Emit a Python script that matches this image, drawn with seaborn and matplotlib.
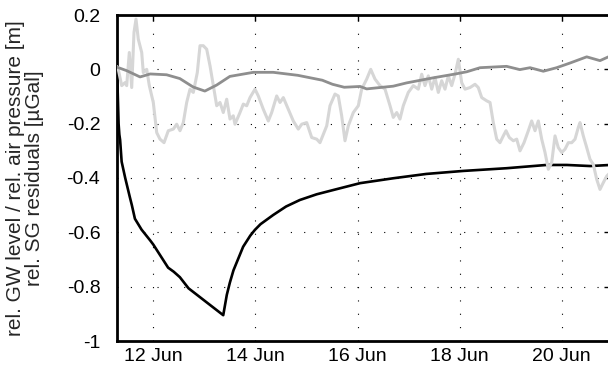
import matplotlib
matplotlib.use("Agg")
import matplotlib.pyplot as plt
import seaborn as sns
import pandas as pd

# ---- data (day of June, value) ----
gw_day = [11.29, 11.305, 11.32, 11.335, 11.35, 11.38, 11.45, 11.54, 11.58, 11.64, 11.77, 11.94, 12.0,
          12.29, 12.40, 12.52, 12.69, 13.37, 13.44, 13.50, 13.57, 13.76, 13.90, 13.99, 14.10, 14.35,
          14.60, 14.87, 15.20, 15.53, 16.05, 16.70, 17.35, 18.07, 18.92, 19.70, 20.10, 20.56, 20.95]
gw_val = [0.0, -0.10, -0.20, -0.24, -0.26, -0.34, -0.40, -0.47, -0.50, -0.55, -0.59, -0.63, -0.645,
          -0.73, -0.745, -0.765, -0.806, -0.905, -0.83, -0.785, -0.74, -0.653, -0.612, -0.591, -0.57, -0.536,
          -0.505, -0.481, -0.46, -0.444, -0.419, -0.401, -0.385, -0.374, -0.364, -0.352, -0.352, -0.356, -0.352]

air_day = [11.29, 11.48, 11.74, 11.94, 12.26, 12.52, 12.78, 13.01, 13.24, 13.50, 13.96, 14.35, 14.83,
           15.31, 15.51, 15.74, 16.05, 16.18, 16.70, 16.96, 17.49, 17.92, 18.14, 18.40, 18.92, 19.18,
           19.38, 19.64, 19.90, 20.16, 20.49, 20.75, 20.95]
air_val = [0.008, -0.005, -0.028, -0.017, -0.020, -0.034, -0.065, -0.080, -0.058, -0.026, -0.011, -0.011, -0.022,
           -0.040, -0.055, -0.066, -0.063, -0.072, -0.062, -0.050, -0.031, -0.017, -0.009, 0.006, 0.011, -0.001,
           0.006, -0.007, 0.006, 0.023, 0.046, 0.032, 0.049]

sg_day = [11.29, 11.314, 11.381, 11.446, 11.479, 11.530, 11.577, 11.622, 11.661, 11.706, 11.773, 11.804, 11.871,
          11.922, 12.0, 12.067, 12.131, 12.210, 12.294, 12.392, 12.458, 12.523, 12.588, 12.654, 12.719, 12.784,
          12.862, 12.915, 12.979, 13.046, 13.111, 13.175, 13.242, 13.307, 13.371, 13.438, 13.502, 13.567,
          13.600, 13.698, 13.763, 13.830, 13.894, 13.992, 14.057, 14.155, 14.253, 14.319, 14.417, 14.482,
          14.547, 14.644, 14.742, 14.840, 14.907, 15.005, 15.103, 15.201, 15.265, 15.330, 15.397, 15.461,
          15.559, 15.624, 15.690, 15.755, 15.820, 15.918, 16.016, 16.082, 16.180, 16.259, 16.343, 16.441,
          16.539, 16.637, 16.701, 16.768, 16.832, 16.897, 16.995, 17.093, 17.191, 17.258, 17.322, 17.387,
          17.454, 17.518, 17.583, 17.649, 17.714, 17.779, 17.845, 17.910, 17.975, 18.041, 18.106, 18.204,
          18.302, 18.366, 18.433, 18.531, 18.596, 18.660, 18.727, 18.791, 18.856, 18.909, 18.974, 19.052,
          19.119, 19.183, 19.262, 19.346, 19.412, 19.477, 19.542, 19.608, 19.673, 19.738, 19.804, 19.869,
          19.933, 20.000, 20.065, 20.129, 20.196, 20.261, 20.325, 20.359, 20.423, 20.490, 20.554, 20.619,
          20.686, 20.750, 20.815, 20.882, 20.95]
sg_val = [0.01, 0.0, -0.06, -0.049, -0.06, 0.062, -0.067, 0.136, 0.185, 0.111, 0.062, -0.012, 0.0,
          -0.06, -0.122, -0.233, -0.257, -0.27, -0.226, -0.22, -0.202, -0.226, -0.196, -0.122, -0.073, -0.085,
          -0.012, 0.087, 0.087, 0.074, 0.013, -0.06, -0.134, -0.122, -0.159, -0.11, -0.183, -0.171,
          -0.202, -0.159, -0.128, -0.134, -0.104, -0.073, -0.098, -0.147, -0.19, -0.159, -0.098, -0.122,
          -0.104, -0.147, -0.19, -0.22, -0.202, -0.196, -0.251, -0.257, -0.27, -0.239, -0.208, -0.134,
          -0.091, -0.098, -0.171, -0.263, -0.208, -0.159, -0.134, -0.073, -0.036, 0.0, -0.036, -0.06,
          -0.073, -0.134, -0.177, -0.159, -0.183, -0.134, -0.085, -0.06, -0.073, -0.018, -0.06, -0.024,
          -0.073, -0.03, -0.085, -0.042, -0.073, -0.024, -0.06, -0.018, 0.037, -0.049, -0.073, -0.067,
          -0.055, -0.067, -0.104, -0.116, -0.122, -0.196, -0.257, -0.27, -0.245, -0.226, -0.251, -0.263,
          -0.257, -0.3, -0.27, -0.226, -0.19, -0.226, -0.19, -0.257, -0.306, -0.368, -0.343, -0.245,
          -0.288, -0.306, -0.294, -0.27, -0.27, -0.257, -0.214, -0.196, -0.245, -0.288, -0.331, -0.35,
          -0.405, -0.442, -0.417, -0.393, -0.38]

xticks = [12, 14, 16, 18, 20]
xtick_labels = ["12 Jun", "14 Jun", "16 Jun", "18 Jun", "20 Jun"]
yticks = [-1, -0.8, -0.6, -0.4, -0.2, 0, 0.2]
ytick_labels = ["-1", "-0.8", "-0.6", "-0.4", "-0.2", "0", "0.2"]

sns.set_style("white")
plt.rcParams["font.family"] = ["Liberation Sans", "DejaVu Sans"]
plt.rcParams["axes.unicode_minus"] = False

fig = plt.figure(figsize=(6.08, 3.74), dpi=100)
ax = fig.add_axes([117 / 608, 33 / 374, (610 - 117) / 608, (341 - 15) / 374])

gw = pd.DataFrame({"day": gw_day, "val": gw_val})
air = pd.DataFrame({"day": air_day, "val": air_val})
sg = pd.DataFrame({"day": sg_day, "val": sg_val})

sns.lineplot(data=gw, x="day", y="val", ax=ax, color="black", lw=1.9, sort=False, estimator=None, zorder=3)
sns.lineplot(data=sg, x="day", y="val", ax=ax, color="#d6d6d6", lw=2.2, sort=False, estimator=None, zorder=4)
sns.lineplot(data=air, x="day", y="val", ax=ax, color="#8e8e8e", lw=2.0, sort=False, estimator=None, zorder=5)

ax.set_xlim(11.289, 20.946)
ax.set_ylim(-1, 0.2)
ax.set_xticks(xticks)
ax.set_xticklabels(xtick_labels)
ax.set_yticks(yticks)
ax.set_yticklabels(ytick_labels)
ax.grid(True, color="black", linestyle=(0, (1, 11)), linewidth=0.8)
ax.set_axisbelow(True)
for s in ax.spines.values():
    s.set_visible(True)
    s.set_color("black")
    s.set_linewidth(2.0)
ax.tick_params(direction="in", length=4, width=1, top=True, right=True,
               labelsize=14, colors="black", pad=5)
ax.tick_params(axis="y", pad=12)
ax.set_xlabel("")
ax.set_ylabel("rel. GW level / rel. air pressure [m]\nrel. SG residuals [µGal]",
              fontsize=15, linespacing=1.0, labelpad=16)

fig.savefig("out.png", dpi=100)
